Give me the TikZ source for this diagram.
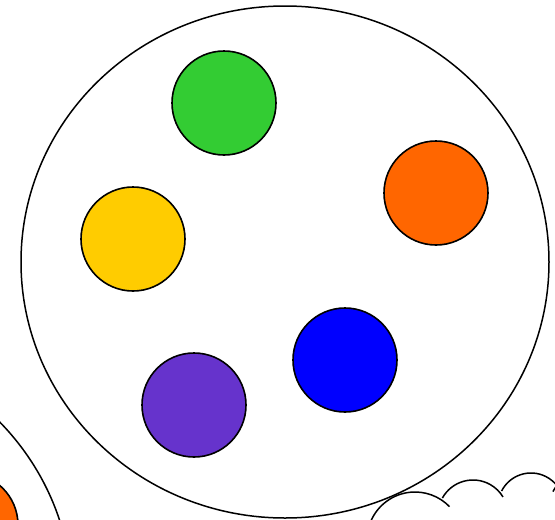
\documentclass[tikz,border=0pt]{standalone}
\begin{document}
\begin{tikzpicture}[x=1pt,y=-1pt,
  ball/.style={circle,draw=black,line width=1.6pt,minimum size=104pt,inner sep=0pt},
  rim/.style={draw=black,line width=1.5pt}]
\definecolor{cgreen}{HTML}{33CC33}
\definecolor{corange}{HTML}{FF6600}
\definecolor{cyellow}{HTML}{FFCC00}
\definecolor{cblue}{HTML}{0000FF}
\definecolor{cpurple}{HTML}{6633CC}
\useasboundingbox (0,0) rectangle (555,520);
\clip (0,0) rectangle (555,520);
% main bowl
\draw[rim] (285,262) ellipse [x radius=264, y radius=256];
% neighbouring bowl at lower left
\draw[rim] (-192,598) ellipse [x radius=264, y radius=256];
\node[ball,fill=corange] (o2) at (-34,525) {};
% balls
\node[ball,fill=cgreen] (g) at (224,103) {};
\node[ball,fill=corange] (o) at (436,193) {};
\node[ball,fill=cyellow] (y) at (133,239) {};
\node[ball,fill=cblue] (b) at (345,360) {};
\node[ball,fill=cpurple] (p) at (194,405) {};
% cloud at lower right
\draw[rim] (415,540) ++(-156:48) arc[start angle=-156,end angle=-44,radius=48];
\draw[rim] (473,515) ++(-151:35) arc[start angle=-151,end angle=-31,radius=35];
\draw[rim] (531,506) ++(-153:33) arc[start angle=-153,end angle=-10,radius=33];
\draw[rim] (585,508) ++(-153:36) arc[start angle=-153,end angle=-110,radius=36];
\end{tikzpicture}
\end{document}
